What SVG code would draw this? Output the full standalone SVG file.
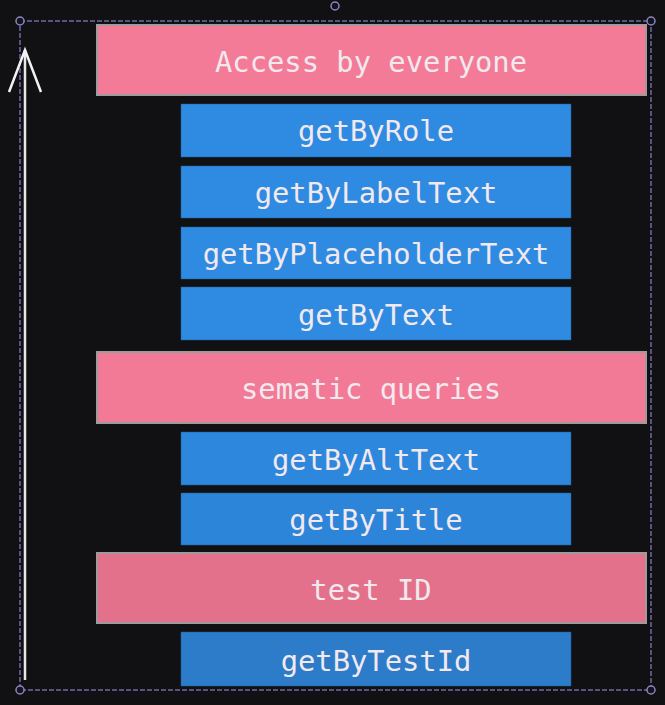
<svg xmlns="http://www.w3.org/2000/svg" width="665" height="705" viewBox="0 0 665 705">
<style>
.pink{stroke:#a09a9c;stroke-width:2}
.blue{stroke:#1f5f9c;stroke-width:0.5}
.t{font-family:"DejaVu Sans Mono","Liberation Mono",monospace;font-size:28.8px;fill:#f2e9ee;text-anchor:middle}
.sel{fill:none;stroke:#6e6aa8;stroke-width:1.5;stroke-dasharray:5 2}
.h{fill:#15131c;stroke:#8a86c0;stroke-width:1.5}
</style>
<rect width="665" height="705" fill="#111113"/>
<g id="selection">
<rect class="sel" x="20" y="21" width="631" height="669"/>
<circle class="h" cx="20" cy="21" r="4"/>
<circle class="h" cx="651" cy="21" r="4"/>
<circle class="h" cx="20" cy="690" r="4"/>
<circle class="h" cx="651" cy="690" r="4"/>
<circle class="h" cx="335" cy="6" r="4"/>
</g>
<g id="connectors">
<line x1="25" y1="50" x2="25" y2="680" stroke="#e8e8ea" stroke-width="2.5"/>
<polyline points="9,92 25,50 41,92" fill="none" stroke="#f2f2f4" stroke-width="2.5" stroke-linejoin="miter"/>
</g>
<g id="access-by-everyone"><rect class="pink" x="97" y="25" width="549" height="70" fill="#f47b97"/><text class="t" x="371" y="72">Access by everyone</text></g>
<g id="getByRole"><rect class="blue" x="181" y="104" width="390" height="53" fill="#2f8be2"/><text class="t" x="376" y="141">getByRole</text></g>
<g id="getByLabelText"><rect class="blue" x="181" y="166" width="390" height="52" fill="#2f8be2"/><text class="t" x="376" y="203">getByLabelText</text></g>
<g id="getByPlaceholderText"><rect class="blue" x="181" y="227" width="390" height="52" fill="#2f8be2"/><text class="t" x="376" y="264">getByPlaceholderText</text></g>
<g id="getByText"><rect class="blue" x="181" y="287" width="390" height="53" fill="#2f8be2"/><text class="t" x="376" y="325">getByText</text></g>
<g id="sematic-queries"><rect class="pink" x="97" y="352" width="549" height="71" fill="#f27a96"/><text class="t" x="371" y="399">sematic queries</text></g>
<g id="getByAltText"><rect class="blue" x="181" y="432" width="390" height="53" fill="#2d87dc"/><text class="t" x="376" y="470">getByAltText</text></g>
<g id="getByTitle"><rect class="blue" x="181" y="493" width="390" height="52" fill="#2d85da"/><text class="t" x="376" y="530">getByTitle</text></g>
<g id="test-id"><rect class="pink" x="97" y="553" width="549" height="70" fill="#e4718c"/><text class="t" x="371" y="600">test ID</text></g>
<g id="getByTestId"><rect class="blue" x="181" y="632" width="390" height="54" fill="#2c7cc9"/><text class="t" x="376" y="671">getByTestId</text></g>
</svg>
